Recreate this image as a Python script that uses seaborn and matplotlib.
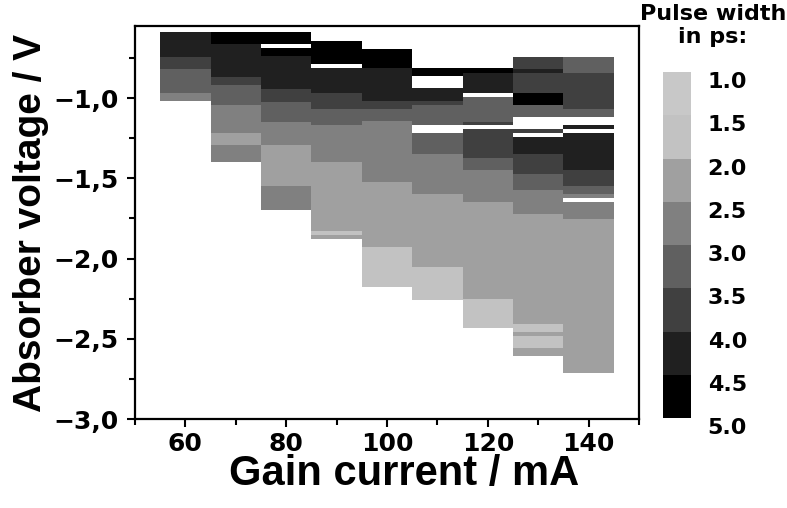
import numpy as np
import pandas as pd
import matplotlib
matplotlib.use("Agg")
import matplotlib.pyplot as plt
from matplotlib.colors import ListedColormap, BoundaryNorm
import seaborn as sns

# gain current columns (mA), each 10 mA wide
currents = [60, 70, 80, 90, 100, 110, 120, 130, 140]

# absorber voltage band edges (V, top to bottom) and pulse width (ps) per band
# nan = no mode locking (white)
edges_60 = [-0.590, -0.742, -0.818, -0.968, -1.019]
width_60 = [4.25, 3.75, 3.25, 2.75]

edges_70 = [-0.590, -0.665, -0.868, -0.921, -1.045, -1.220, -1.295, -1.398]
width_70 = [4.75, 4.25, 3.75, 3.25, 2.75, 2.25, 2.75]

edges_80 = [-0.590, -0.664, -0.690, -0.740, -0.943, -1.022, -1.147, -1.295, -1.547, -1.697]
width_80 = [4.75, np.nan, 4.75, 4.25, 3.75, 3.25, 2.75, 2.25, 2.75]

edges_90 = [-0.642, -0.790, -0.815, -0.969, -1.070, -1.170, -1.401, -1.831, -1.852, -1.877]
width_90 = [4.75, np.nan, 4.25, 3.75, 3.25, 2.75, 2.25, 1.75, 2.25]

edges_100 = [-0.692, -0.815, -1.017, -1.070, -1.145, -1.525, -1.930, -2.178]
width_100 = [4.75, 4.25, 3.75, 3.25, 2.75, 2.25, 1.75]

edges_110 = [-0.815, -0.862, -0.940, -1.017, -1.045, -1.170, -1.220, -1.348, -1.597, -2.052, -2.254]
width_110 = [4.75, np.nan, 4.25, 3.75, 3.25, np.nan, 3.25, 2.75, 2.25, 1.75]

edges_120 = [-0.815, -0.843, -0.968, -0.996, -1.148, -1.170, -1.195, -1.373, -1.450, -1.650, -2.253, -2.430]
width_120 = [4.75, 4.25, np.nan, 3.25, 3.75, np.nan, 3.75, 3.25, 2.75, 2.25, 1.75]

edges_130 = [-0.743, -0.818, -0.843, -0.968, -1.042, -1.119, -1.194, -1.219, -1.244, -1.349,
             -1.474, -1.576, -1.721, -2.408, -2.455, -2.482, -2.556, -2.606]
width_130 = [3.75, 4.25, 3.75, 4.75, 3.25, np.nan, 3.75, np.nan, 4.25, 3.75,
             3.25, 2.75, 2.25, 1.75, 2.25, 1.75, 2.25]

edges_140 = [-0.743, -0.843, -1.068, -1.119, -1.170, -1.193, -1.220, -1.450, -1.550, -1.597,
             -1.625, -1.649, -1.755, -2.709]
width_140 = [3.25, 3.75, 3.25, np.nan, 4.25, np.nan, 4.25, 3.75, 3.25, 2.75,
             np.nan, 2.75, 2.25]

level_edges = [1.0, 1.5, 2.0, 2.5, 3.0, 3.5, 4.0, 4.5, 5.0]
level_colors = ["#c8c8c8", "#c2c2c2", "#a0a0a0", "#808080",
                "#606060", "#404040", "#202020", "#000000"]

bands = [(edges_60, width_60), (edges_70, width_70), (edges_80, width_80),
         (edges_90, width_90), (edges_100, width_100), (edges_110, width_110),
         (edges_120, width_120), (edges_130, width_130), (edges_140, width_140)]

# raster the bands on a fine voltage grid so sns.heatmap can draw them
step = 0.0025
v_top = -0.58
v_bot = -2.72
n_rows = int(round((v_top - v_bot) / step))
centers = v_top - step * (np.arange(n_rows) + 0.5)
grid = np.full((n_rows, len(currents)), np.nan)
for j, (e, w) in enumerate(bands):
    e = np.asarray(e)
    w = np.asarray(w)
    idx = np.searchsorted(-e, -centers, side="right") - 1
    ok = (idx >= 0) & (idx < len(w))
    grid[ok, j] = w[idx[ok]]

df = pd.DataFrame(grid, index=np.round(centers, 4), columns=currents)

sns.set_style("ticks")
plt.rcParams["font.family"] = ["DejaVu Sans"]
plt.rcParams["font.weight"] = "bold"
for key in ["text.color", "axes.labelcolor", "xtick.color", "ytick.color"]:
    plt.rcParams[key] = "black"

cmap = ListedColormap(level_colors)
norm = BoundaryNorm(level_edges, cmap.N)

fig = plt.figure(figsize=(7.87, 5.08), dpi=100)
ax = fig.add_axes([0.1715, 0.175, 0.6405, 0.774])
cax = fig.add_axes([0.8424, 0.177, 0.0356, 0.681])

sns.heatmap(df, ax=ax, cbar_ax=cax, cmap=cmap, norm=norm,
            xticklabels=False, yticklabels=False)


def to_x(c):
    # heatmap column j covers 55+10j .. 65+10j mA
    return (c - 55) / 10


def to_y(v):
    return (v_top - v) / step


ax.set_xlim(to_x(50), to_x(150))
ax.set_ylim(to_y(-3.0), to_y(-0.55))

xmaj = [60, 80, 100, 120, 140]
ax.set_xticks([to_x(c) for c in xmaj], labels=[str(c) for c in xmaj])
ax.set_xticks([to_x(c) for c in range(50, 151, 10)], minor=True)
ymaj = [-1.0, -1.5, -2.0, -2.5, -3.0]
ax.set_yticks([to_y(v) for v in ymaj],
              labels=[f"{v:.1f}".replace(".", ",").replace("-", "\u2212") for v in ymaj])
ax.set_yticks([to_y(v) for v in np.arange(-3.0, -0.6, 0.25)], minor=True)

for s in ax.spines.values():
    s.set_visible(True)
    s.set_color("black")
    s.set_linewidth(1.6)
ax.tick_params(which="major", length=6, width=1.5, labelsize=18, pad=3)
ax.tick_params(which="minor", length=4, width=1.5)
ax.tick_params(axis="y", which="major", pad=6)
for lab in ax.get_xticklabels() + ax.get_yticklabels():
    lab.set_fontweight("bold")

ax.set_xlabel("Gain current / mA", fontsize=30, fontweight="bold",
              family="Liberation Sans")
ax.set_ylabel("Absorber voltage / V", fontsize=28, fontweight="bold",
              family="Liberation Sans")
ax.xaxis.set_label_coords(0.534, -0.088)
ax.yaxis.set_label_coords(-0.17, 0.5)

cbar = ax.collections[0].colorbar
cbar.outline.set_visible(False)
cax.invert_yaxis()
cbar.set_ticks(level_edges, labels=[f"{v:.1f}" for v in level_edges])
cax.tick_params(length=0, labelsize=16, pad=12)
for lab in cax.get_yticklabels():
    lab.set_fontweight("bold")
    lab.set_va("top")

fig.text(0.906, 0.993, "Pulse width\nin ps:", ha="center", va="top",
         fontsize=16, fontweight="bold", linespacing=1.2)

fig.savefig("out.png", dpi=100)
